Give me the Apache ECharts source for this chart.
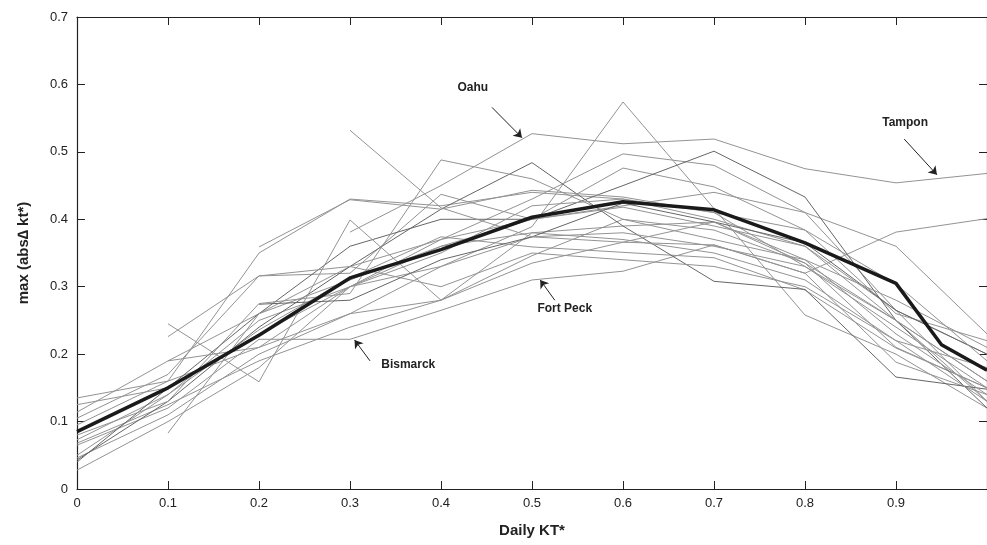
<!DOCTYPE html>
<html><head><meta charset="utf-8">
<script src="https://cdn.jsdelivr.net/npm/echarts@6/dist/echarts.min.js"></script>
<style>html,body{margin:0;padding:0;background:#fff}#c{width:987px;height:545px}</style>
</head><body><div id="c"></div>
<script>
// x positions shared by the gray station curves
const xs = [0, 0.1, 0.2, 0.3, 0.4, 0.5, 0.6, 0.7, 0.8, 0.9, 1.0];
// gray station curves (null = no value in that bin)
const sA = [0.135, 0.16, 0.35, 0.43, 0.42, 0.44, 0.43, 0.40, 0.36, 0.265, 0.20];
const sB = [0.125, 0.15, 0.23, 0.30, 0.36, 0.38, 0.39, 0.396, 0.335, 0.21, 0.15];
const sC = [0.114, 0.19, 0.26, 0.33, 0.37, 0.43, 0.497, 0.48, 0.41, 0.265, 0.13];
const sD = [0.105, 0.17, 0.316, 0.32, 0.437, 0.40, 0.476, 0.448, 0.384, 0.26, 0.22];
const sE = [0.095, 0.16, 0.21, 0.30, 0.33, 0.374, 0.366, 0.362, 0.32, 0.188, 0.14];
const sF = [0.073, 0.14, 0.236, 0.313, 0.374, 0.359, 0.351, 0.343, 0.295, 0.209, 0.15];
const sG = [0.068, 0.125, 0.19, 0.24, 0.28, 0.346, 0.40, 0.384, 0.335, 0.25, 0.13];
const sBismarck = [0.065, 0.12, 0.222, 0.222, 0.265, 0.31, 0.323, 0.362, 0.32, 0.381, 0.401];
const sI = [0.05, 0.14, 0.25, 0.30, 0.37, 0.40, 0.42, 0.44, 0.41, 0.36, 0.23];
const sJ = [0.046, 0.11, 0.20, 0.26, 0.33, 0.389, 0.574, 0.416, 0.258, 0.20, 0.12];
const sK = [0.043, 0.13, 0.24, 0.33, 0.415, 0.484, 0.39, 0.308, 0.296, 0.166, 0.148];
const sL = [0.04, 0.15, 0.26, 0.36, 0.40, 0.40, 0.45, 0.501, 0.433, 0.25, 0.12];
const sM = [0.028, 0.10, 0.18, 0.30, 0.35, 0.42, 0.43, 0.41, 0.33, 0.25, 0.16];
const sTampon = [null, null, null, 0.381, 0.45, 0.527, 0.512, 0.519, 0.475, 0.454, 0.468];
const sN = [null, 0.245, 0.159, 0.399, 0.28, 0.38, 0.37, 0.35, 0.31, 0.22, 0.13];
const sO = [null, 0.083, 0.26, 0.31, 0.36, 0.40, 0.418, 0.39, 0.36, 0.25, 0.16];
const sP = [null, 0.226, 0.316, 0.33, 0.30, 0.35, 0.34, 0.33, 0.30, 0.22, 0.18];
const sQ = [null, null, 0.274, 0.28, 0.34, 0.374, 0.424, 0.396, 0.365, 0.265, 0.20];
const sR = [null, null, 0.359, 0.429, 0.415, 0.443, 0.433, 0.41, 0.384, 0.304, 0.19];
const sFortPeck = [null, 0.19, 0.21, 0.26, 0.28, 0.335, 0.366, 0.396, 0.34, 0.23, 0.14];
const sS = [null, null, null, 0.532, 0.417, 0.374, 0.38, 0.36, 0.33, 0.24, 0.15];
const sT = [0.08, 0.13, 0.275, 0.29, 0.488, 0.46, 0.40, 0.37, 0.34, 0.28, 0.21];
const grayNames = ['A','B','C','D','E','F','G','Bismarck','I','J','K','L','M','Tampon','N','O','P','Q','R','Fort Peck','S','T'];
const grayVals = [sA,sB,sC,sD,sE,sF,sG,sBismarck,sI,sJ,sK,sL,sM,sTampon,sN,sO,sP,sQ,sR,sFortPeck,sS,sT];
const darkSet = ['K','L','Q'];
// mean curve (bold)
const meanX = [0, 0.1, 0.2, 0.3, 0.4, 0.5, 0.6, 0.7, 0.8, 0.9, 0.95, 1.0];
const meanY = [0.085, 0.15, 0.228, 0.313, 0.355, 0.403, 0.426, 0.414, 0.365, 0.305, 0.214, 0.176];
// axis ticks
const xTicks = [0, 0.1, 0.2, 0.3, 0.4, 0.5, 0.6, 0.7, 0.8, 0.9];
const yTicks = [0, 0.1, 0.2, 0.3, 0.4, 0.5, 0.6, 0.7];
// annotations: label, text position, arrow start, arrow end (data units)
const notes = [
  {name:'Oahu', text:[0.435,0.595], from:[0.456,0.566], to:[0.489,0.521]},
  {name:'Tampon', text:[0.91,0.543], from:[0.909,0.519], to:[0.945,0.466]},
  {name:'Fort Peck', text:[0.536,0.268], from:[0.525,0.280], to:[0.509,0.310]},
  {name:'Bismarck', text:[0.364,0.184], from:[0.322,0.190], to:[0.305,0.221]}
];

const FONT = 'Liberation Sans, Arial, sans-serif';
const series = [];
grayVals.forEach((v, i) => {
  const dark = darkSet.includes(grayNames[i]);
  series.push({
    type:'line', name:grayNames[i], data: xs.map((x,j)=>[x, v[j]]),
    symbol:'none', silent:true, connectNulls:false,
    lineStyle:{color: dark ? '#666' : '#939393', width:1}, z:2
  });
});
series.push({
  type:'line', name:'mean', data: meanX.map((x,j)=>[x, meanY[j]]),
  symbol:'none', lineStyle:{color:'#1a1a1a', width:3.5}, z:5
});
series.push({
  type:'line', name:'notes', data:[], symbol:'none', z:6,
  markLine:{
    silent:true, symbol:['none','arrow'], symbolSize:8,
    lineStyle:{color:'#222', width:1, type:'solid'}, label:{show:false},
    data: notes.map(n => [{coord:n.from}, {coord:n.to}])
  },
  markPoint:{
    silent:true, symbol:'circle', symbolSize:0,
    label:{show:true, position:'inside', color:'#222', fontFamily:FONT, fontWeight:'bold', fontSize:12, formatter:p=>p.name},
    data: notes.map(n => ({name:n.name, coord:n.text}))
  }
});

const tickStyle = {show:true, inside:true, length:8, lineStyle:{color:'#222', width:1}};
const lineStyle = {show:true, onZero:false, lineStyle:{color:'#222', width:1.2}};
const chart = echarts.init(document.getElementById('c'), null, {renderer:'canvas'});
chart.setOption({
  animation:false,
  backgroundColor:'#fff',
  grid:{left:77, top:17, width:914, height:472, containLabel:false},
  xAxis:[{
    type:'value', min:0, max:1, interval:0.1, position:'bottom',
    axisLine:lineStyle, axisTick:tickStyle, splitLine:{show:false},
    axisLabel:{color:'#222', fontFamily:FONT, fontSize:13, margin:8, showMaxLabel:false,
      formatter:v => xTicks.includes(Math.round(v*10)/10) ? String(Math.round(v*10)/10) : ''},
    name:'Daily KT*', nameLocation:'middle', nameGap:34,
    nameTextStyle:{color:'#222', fontFamily:FONT, fontWeight:'bold', fontSize:15}
  },{
    type:'value', min:0, max:1, interval:0.1, position:'top',
    axisLine:lineStyle, axisTick:tickStyle, axisLabel:{show:false}, splitLine:{show:false}
  }],
  yAxis:[{
    type:'value', min:0, max:0.7, interval:0.1, position:'left',
    axisLine:lineStyle, axisTick:tickStyle, splitLine:{show:false},
    axisLabel:{color:'#222', fontFamily:FONT, fontSize:13, margin:9,
      formatter:v => { const r = Math.round(v*10)/10; return yTicks.includes(r) ? String(r) : ''; }},
    name:'max (abs∆ kt*)', nameLocation:'middle', nameGap:46, nameRotate:90,
    nameTextStyle:{color:'#222', fontFamily:FONT, fontWeight:'bold', fontSize:15}
  },{
    type:'value', min:0, max:0.7, interval:0.1, position:'right',
    axisLine:lineStyle, axisTick:tickStyle, axisLabel:{show:false}, splitLine:{show:false}
  }],
  series: series
});
</script></body></html>
